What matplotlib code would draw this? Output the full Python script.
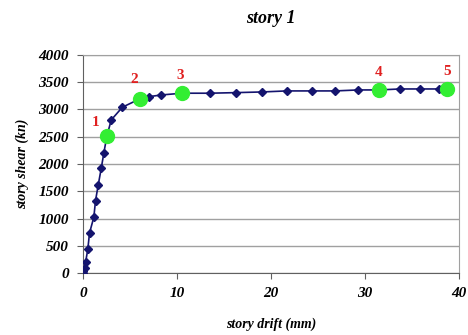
import matplotlib
matplotlib.use("Agg")
import matplotlib.pyplot as plt

# pushover curve
drift = [0.0, 0.07, 0.18, 0.29, 0.53, 0.71, 1.17, 1.35, 1.64, 1.96, 2.24, 2.56,
         3.02, 4.2, 6.04, 7.03, 8.35, 10.54, 13.49, 16.33, 19.03, 21.66, 24.32,
         26.8, 29.29, 31.49, 33.73, 35.86, 37.81, 38.7]
shear = [0, 40, 92, 194, 440, 733, 1026, 1330, 1618, 1924, 2209, 2515,
         2808, 3041, 3193, 3235, 3266, 3298, 3298, 3309, 3321, 3340, 3340,
         3340, 3358, 3358, 3376, 3376, 3376, 3376]

# performance points
pt_labels = ["1", "2", "3", "4", "5"]
pt_drift = [2.56, 6.04, 10.54, 31.49, 38.7]
pt_shear = [2515, 3193, 3298, 3358, 3376]
pt_offset = [(-8, 5), (-4, 9), (-1, 8), (0, 8), (0, 8)]

plt.rcParams['font.family'] = ['Liberation Serif', 'DejaVu Serif']

fig = plt.figure(figsize=(4.68, 3.35), dpi=100)
ax = fig.add_axes([0.177, 0.185, 0.804, 0.651])

ax.plot(drift, shear, color='#14146e', lw=1.2, marker='D', ms=4.5, zorder=3)
ax.plot(pt_drift, pt_shear, ls='none', marker='o', ms=10, color='#33ee33', zorder=4)
for lab, x, y, off in zip(pt_labels, pt_drift, pt_shear, pt_offset):
    ax.annotate(lab, (x, y), xytext=off, textcoords='offset points',
                color='#e02020', fontsize=11, fontweight='bold', ha='center', va='bottom')

ax.set_xlim(0, 40)
ax.set_ylim(0, 4000)
ax.set_xticks(range(0, 41, 10))
ax.set_yticks(range(0, 4001, 500))
ax.grid(axis='y', color='#a0a0a0', lw=1)
ax.set_axisbelow(True)
for s in ax.spines.values():
    s.set_color('#a0a0a0')
ax.spines['left'].set_color('#606060')
ax.spines['bottom'].set_color('#606060')
ax.tick_params(direction='out', length=4, color='#606060', labelsize=11, pad=6)
for t in ax.get_xticklabels() + ax.get_yticklabels():
    t.set_fontweight('bold')
    t.set_fontstyle('italic')

ax.set_xlabel('story drift (mm)', fontsize=10, fontweight='bold', style='italic', labelpad=13)
ax.set_ylabel('story shear (kn)', fontsize=10, fontweight='bold', style='italic', labelpad=7)
ax.set_title('story 1', fontsize=13, fontweight='bold', style='italic', pad=23)

fig.savefig('out.png', dpi=100)
